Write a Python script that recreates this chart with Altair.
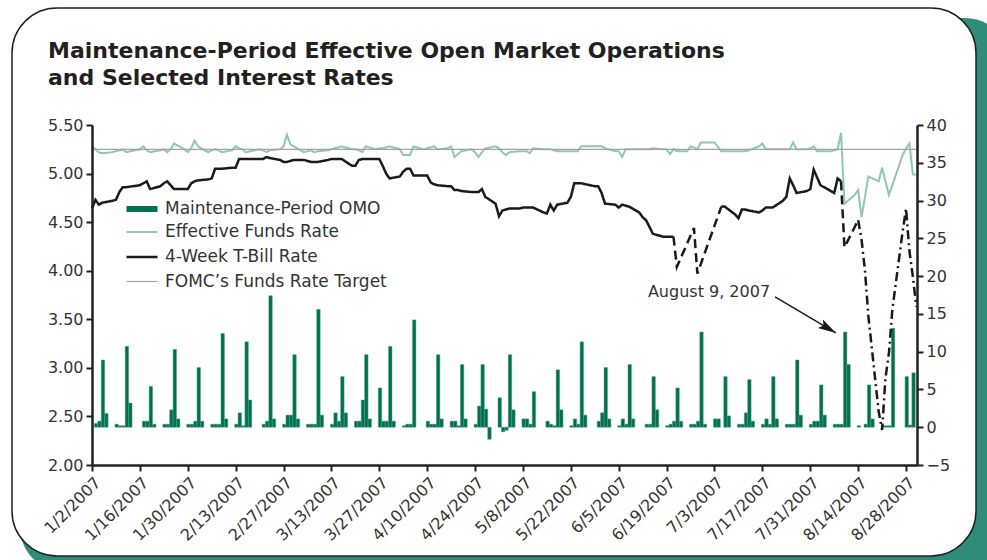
import altair as alt
import pandas as pd

# ---------------- data ----------------
TITLE_LINES = ["Maintenance-Period Effective Open Market Operations",
               "and Selected Interest Rates"]
SERIES = ["Maintenance-Period OMO", "Effective Funds Rate",
          "4-Week T-Bill Rate", "FOMC\u2019s Funds Rate Target"]
X_TICK_LABELS = ["1/2/2007", "1/16/2007", "1/30/2007", "2/13/2007", "2/27/2007",
                 "3/13/2007", "3/27/2007", "4/10/2007", "4/24/2007", "5/8/2007",
                 "5/22/2007", "6/5/2007", "6/19/2007", "7/3/2007", "7/17/2007",
                 "7/31/2007", "8/14/2007", "8/28/2007"]
LEFT_TICKS = [2.0, 2.5, 3.0, 3.5, 4.0, 4.5, 5.0, 5.5]
RIGHT_TICKS = [-5, 0, 5, 10, 15, 20, 25, 30, 35, 40]

FIRST_MONDAY = "2007-01-01"
# Maintenance-period OMO, one list per week (Mon..Fri), None = no operation
OMO_WEEKS = [
    [None, 0.5, 0.8, 8.9, 1.8], [0.4, 0.2, 0.2, 10.7, 3.2], [None, 0.8, 0.8, 5.4, 0.4],
    [0.4, 0.4, 2.3, 10.3, 1.1], [0.4, 0.4, 0.8, 7.9, 0.8], [0.4, 0.4, 0.4, 12.4, 1.1],
    [0.4, 1.9, 0.2, 11.3, 3.6], [None, 0.4, 0.8, 17.4, 1.1], [0.4, 1.6, 1.6, 9.6, 1.1],
    [0.4, 0.4, 0.4, 15.6, 1.6], [0.4, 1.9, 0.8, 6.7, 1.9], [0.8, 0.8, 3.6, 9.6, 1.1],
    [5.2, 0.8, 0.8, 10.7, 0.8], [0.2, 0.4, 0.4, 14.2, None], [0.8, 0.4, 0.4, 9.6, 1.1],
    [0.8, 0.8, 0.2, 8.3, 1.1], [0.4, 2.8, 8.3, 2.4, -1.6], [3.9, -0.6, -0.4, 9.6, 2.3],
    [1.1, 1.1, 0.4, 4.7, None], [0.8, 0.4, 0.2, 7.6, 2.3], [0.2, 1.1, 0.4, 11.3, 1.6],
    [None, 0.8, 1.9, 7.9, 1.1], [0.2, 1.1, 0.4, 8.3, 1.1], [None, 0.4, 0.4, 6.7, 2.3],
    [0.2, 0.4, 0.8, 5.2, 0.8], [0.4, 0.4, 0.8, 12.6, 0.4], [1.1, 1.1, None, 6.7, 1.5],
    [0.4, 0.4, 1.9, 6.3, 0.8], [0.4, 1.1, 0.4, 6.7, 1.1], [0.4, 0.4, 0.4, 8.9, 1.6],
    [0.4, 0.8, 0.8, 5.6, 1.6], [0.4, 0.4, 0.4, 12.6, 8.3], [0.2, None, 0.4, 5.6, 1.1],
    [0.2, 0.2, 0.2, 13.1, None], [6.7, 0.3, 7.2, None, None],
]
# Effective funds rate, one list per week (Mon..Fri)
EFR_WEEKS = [
    [None, 5.28, 5.25, 5.22, 5.21], [5.22, 5.23, 5.24, 5.25, 5.22], [None, 5.25, 5.28, 5.24, 5.22],
    [5.24, 5.25, 5.22, 5.25, 5.31], [5.25, 5.22, 5.26, 5.34, 5.28], [5.22, 5.24, 5.25, 5.24, 5.22],
    [5.24, 5.28, 5.26, 5.25, 5.22], [None, 5.25, 5.24, 5.22, 5.24], [5.25, 5.28, 5.40, 5.30, 5.28],
    [5.22, 5.23, 5.24, 5.22, 5.23], [5.24, 5.25, 5.26, 5.27, 5.28], [5.25, 5.25, 5.24, 5.22, 5.28],
    [5.25, 5.26, 5.26, 5.27, 5.28], [5.25, 5.19, 5.19, 5.19, 5.28], [5.25, 5.26, 5.27, 5.28, 5.25],
    [5.26, 5.28, 5.17, 5.20, 5.23], [5.25, 5.22, 5.17, 5.22, 5.26], [5.28, 5.26, 5.22, 5.19, 5.22],
    [5.23, 5.23, 5.23, 5.21, 5.26], [5.25, 5.25, 5.25, 5.24, 5.23], [5.23, 5.23, 5.23, 5.23, 5.28],
    [None, 5.28, 5.28, 5.28, 5.26], [5.23, 5.23, 5.17, 5.25, 5.25], [5.25, 5.25, 5.25, 5.25, 5.26],
    [5.25, 5.25, 5.20, 5.25, 5.23], [5.23, 5.28, 5.27, 5.25, 5.32], [5.32, 5.32, None, 5.23, 5.23],
    [5.23, 5.23, 5.23, 5.23, 5.24], [5.28, 5.31, 5.25, 5.25, 5.25], [5.25, 5.25, 5.25, 5.32, 5.25],
    [5.25, 5.26, 5.28, 5.23, 5.23], [5.23, 5.24, 5.25, 5.42, 4.69], [4.78, 4.83, 4.55, 4.76, 4.97],
    [4.92, 5.06, 4.92, 4.78, 4.88], [5.19, 5.26, 5.31, 4.99, 4.99],
]
TBILL_DATES = [
    "2007-01-02", "2007-01-03", "2007-01-04", "2007-01-05", "2007-01-08", "2007-01-09", "2007-01-10",
    "2007-01-11", "2007-01-12", "2007-01-16", "2007-01-17", "2007-01-18", "2007-01-19", "2007-01-22",
    "2007-01-23", "2007-01-24", "2007-01-25", "2007-01-26", "2007-01-29", "2007-01-30", "2007-01-31",
    "2007-02-01", "2007-02-02", "2007-02-05", "2007-02-06", "2007-02-07", "2007-02-08", "2007-02-09",
    "2007-02-12", "2007-02-13", "2007-02-14", "2007-02-15", "2007-02-16", "2007-02-20", "2007-02-21",
    "2007-02-22", "2007-02-23", "2007-02-26", "2007-02-27", "2007-02-28", "2007-03-01", "2007-03-02",
    "2007-03-05", "2007-03-06", "2007-03-07", "2007-03-08", "2007-03-09", "2007-03-12", "2007-03-13",
    "2007-03-14", "2007-03-15", "2007-03-16", "2007-03-19", "2007-03-20", "2007-03-21", "2007-03-22",
    "2007-03-23", "2007-03-26", "2007-03-27", "2007-03-28", "2007-03-29", "2007-03-30", "2007-04-02",
    "2007-04-03", "2007-04-04", "2007-04-05", "2007-04-06", "2007-04-09", "2007-04-10", "2007-04-11",
    "2007-04-12", "2007-04-13", "2007-04-16", "2007-04-17", "2007-04-18", "2007-04-19", "2007-04-20",
    "2007-04-23", "2007-04-24", "2007-04-25", "2007-04-26", "2007-04-27", "2007-04-30", "2007-05-01",
    "2007-05-02", "2007-05-03", "2007-05-04", "2007-05-07", "2007-05-08", "2007-05-09", "2007-05-10",
    "2007-05-11", "2007-05-14", "2007-05-15", "2007-05-16", "2007-05-17", "2007-05-18", "2007-05-21",
    "2007-05-22", "2007-05-23", "2007-05-24", "2007-05-25", "2007-05-29", "2007-05-30", "2007-05-31",
    "2007-06-01", "2007-06-04", "2007-06-05", "2007-06-06", "2007-06-07", "2007-06-08", "2007-06-11",
    "2007-06-12", "2007-06-13", "2007-06-14", "2007-06-15", "2007-06-18", "2007-06-19", "2007-06-20",
    "2007-06-21", "2007-06-22", "2007-06-27", "2007-06-28", "2007-07-05", "2007-07-06", "2007-07-09",
    "2007-07-10", "2007-07-11", "2007-07-12", "2007-07-13", "2007-07-16", "2007-07-17", "2007-07-18",
    "2007-07-19", "2007-07-20", "2007-07-23", "2007-07-24", "2007-07-25", "2007-07-26", "2007-07-27",
    "2007-07-30", "2007-07-31", "2007-08-01", "2007-08-02", "2007-08-03", "2007-08-06", "2007-08-07",
    "2007-08-08", "2007-08-09", "2007-08-10", "2007-08-13", "2007-08-14", "2007-08-15", "2007-08-16",
    "2007-08-17", "2007-08-20", "2007-08-21", "2007-08-22", "2007-08-23", "2007-08-24", "2007-08-27",
    "2007-08-28", "2007-08-29", "2007-08-30", "2007-08-31",
]
TBILL_VALUES = [
    4.64, 4.73, 4.68, 4.70, 4.72, 4.73, 4.81,
    4.86, 4.86, 4.88, 4.90, 4.92, 4.84, 4.87,
    4.90, 4.92, 4.88, 4.84, 4.84, 4.84, 4.90,
    4.92, 4.93, 4.94, 4.95, 5.05, 5.05, 5.05,
    5.06, 5.06, 5.15, 5.15, 5.15, 5.15, 5.15,
    5.17, 5.16, 5.14, 5.12, 5.12, 5.13, 5.14,
    5.14, 5.13, 5.12, 5.12, 5.12, 5.14, 5.15,
    5.15, 5.15, 5.15, 5.08, 5.08, 5.14, 5.15,
    5.15, 5.15, 5.15, 5.08, 5.00, 4.95, 4.97,
    5.02, 5.05, 5.05, 4.98, 4.98, 4.98, 4.91,
    4.89, 4.88, 4.87, 4.87, 4.83, 4.83, 4.82,
    4.81, 4.81, 4.81, 4.84, 4.76, 4.69, 4.56,
    4.62, 4.63, 4.64, 4.64, 4.65, 4.65, 4.65,
    4.65, 4.60, 4.59, 4.68, 4.62, 4.68, 4.70,
    4.76, 4.90, 4.90, 4.90, 4.87, 4.87, 4.80,
    4.69, 4.68, 4.65, 4.68, 4.67, 4.66, 4.60,
    4.55, 4.52, 4.45, 4.38, 4.35, 4.35, 4.35,
    4.35, 4.04, 4.44, 3.97, 4.66, 4.66, 4.58,
    4.54, 4.63, 4.63, 4.62, 4.60, 4.62, 4.65,
    4.65, 4.65, 4.72, 4.76, 4.95, 4.88, 4.80,
    4.82, 4.84, 5.04, 4.96, 4.88, 4.82, 4.80,
    4.95, 4.92, 4.24, 4.45, 4.52, 4.32, 4.00,
    3.53, 2.55, 2.36, 2.90, 3.15, 3.60, 4.40,
    4.64, 4.20, 3.94, 3.63,
]
# line style of the T-bill series over date ranges
TBILL_STYLE_FROM = ["2007-01-02", "2007-06-21", "2007-07-05", "2007-08-09", "2007-08-14"]
TBILL_STYLE_TO = ["2007-06-21", "2007-07-05", "2007-08-09", "2007-08-14", "2007-08-31"]
TBILL_STYLE = ["solid", "dash", "solid", "dash", "dashdot"]

FOMC_DATES = ["2007-01-02T00:00:00", "2007-08-31T05:00:00"]
FOMC_VALUES = [5.25, 5.25]

ANNOT_LABEL = ["August 9, 2007"]
ANNOT_DATE = ["2007-07-19T06:00:00"]
ANNOT_VALUE = [3.78]
ARROW_FROM_DATE = ["2007-07-20T17:00:00"]
ARROW_FROM_VALUE = [3.73]
ARROW_TO_DATE = ["2007-08-07T12:00:00"]
ARROW_TO_VALUE = [3.36]

# ---------------- frames ----------------
mondays = pd.date_range(FIRST_MONDAY, periods=len(OMO_WEEKS), freq="7D")
bar_rows, efr_rows = [], []
for w, monday in enumerate(mondays):
    for k in range(5):
        d = monday + pd.Timedelta(days=k)
        v = OMO_WEEKS[w][k]
        if v is not None:
            bar_rows.append({"bx": d + pd.Timedelta(hours=17), "bx2": d + pd.Timedelta(hours=41), "omo": v})
        e = EFR_WEEKS[w][k]
        if e is not None:
            efr_rows.append({"date": d, "value": e, "series": SERIES[1], "seg": "efr", "style": "solid"})
bars_df = pd.DataFrame(bar_rows)

tb = pd.DataFrame({"date": pd.to_datetime(TBILL_DATES), "value": TBILL_VALUES})
line_parts = [pd.DataFrame(efr_rows)]
for i, (a, b, s) in enumerate(zip(TBILL_STYLE_FROM, TBILL_STYLE_TO, TBILL_STYLE)):
    part = tb[(tb.date >= pd.Timestamp(a)) & (tb.date <= pd.Timestamp(b))].copy()
    part["series"] = SERIES[2]
    part["seg"] = f"tb{i}"
    part["style"] = s
    line_parts.append(part)
line_parts.append(pd.DataFrame({"date": pd.to_datetime(FOMC_DATES, format="ISO8601"), "value": FOMC_VALUES,
                                "series": SERIES[3], "seg": "fomc", "style": "solid"}))
lines_df = pd.concat(line_parts, ignore_index=True)

annot_df = pd.DataFrame({"date": pd.to_datetime(ANNOT_DATE, format="ISO8601"),
                         "value": ANNOT_VALUE, "label": ANNOT_LABEL})
arrow_df = pd.DataFrame({"d1": pd.to_datetime(ARROW_FROM_DATE, format="ISO8601"), "v1": ARROW_FROM_VALUE,
                         "d2": pd.to_datetime(ARROW_TO_DATE, format="ISO8601"), "v2": ARROW_TO_VALUE})


def to_dt(s):
    m, d, y = (int(p) for p in s.split("/"))
    return alt.DateTime(year=y, month=m, date=d)


# ---------------- layout / style ----------------
PL, PT, W, H = 92, 125, 825, 340
FONT = "DejaVu Sans"
TXT = "#333333"
AX = "#231f20"

x_scale = alt.Scale(domain=[alt.DateTime(year=2007, month=1, date=2),
                            alt.DateTime(year=2007, month=8, date=31, hours=5)])
x_axis = alt.Axis(values=[to_dt(s) for s in X_TICK_LABELS], format="%-m/%-d/%Y",
                  labelAngle=-45, labelAlign="right", labelBaseline="top",
                  labelFlush=False, labelOverlap=False, labelBound=False,
                  labelPadding=3, tickSize=6, title=None, grid=False, zindex=2)
left_scale = alt.Scale(domain=[2, 5.5], nice=False, zero=False)
left_axis = alt.Axis(orient="left", values=LEFT_TICKS, format=".2f", tickSize=6,
                     labelPadding=3, labelOverlap=False, title=None, grid=False, zindex=2)
right_scale = alt.Scale(domain=[-5, 40], nice=False, zero=False)
right_axis = alt.Axis(orient="right", values=RIGHT_TICKS, format="d", tickSize=6,
                      labelPadding=3, labelOverlap=False, title=None, grid=False, zindex=2)

frame_df = pd.DataFrame({"k": [0]})
shadow = alt.Chart(frame_df).mark_rect(cornerRadius=45, color="#2f8c78").encode(
    x=alt.value(20 - PL), x2=alt.value(1010 - PL), y=alt.value(18 - PT), y2=alt.value(572 - PT))
frame = alt.Chart(frame_df).mark_rect(cornerRadius=45, fill="white", stroke=AX, strokeWidth=1.5).encode(
    x=alt.value(12 - PL), x2=alt.value(976 - PL), y=alt.value(8 - PT), y2=alt.value(556 - PT))

title_df = pd.DataFrame({"t": ["\n".join(TITLE_LINES)]})
title = alt.Chart(title_df).mark_text(align="left", baseline="alphabetic", lineBreak="\n",
                                      lineHeight=27, fontSize=22, fontWeight="bold",
                                      font=FONT, color=AX).encode(
    x=alt.value(48 - PL), y=alt.value(58 - PT), text="t:N")

bars = alt.Chart(bars_df).mark_bar(color="#00704f", stroke="#4f9e80", strokeWidth=0.5).encode(
    x=alt.X("bx:T", scale=x_scale, axis=x_axis),
    x2="bx2:T",
    y=alt.Y("omo:Q", scale=right_scale, axis=right_axis),
    y2=alt.datum(0),
)

legend = alt.Legend(title=None, orient="none", legendX=39, legendY=73,
                    symbolType="M-2,0H2", symbolSize=240, labelOffset=12,
                    rowPadding=1, padding=0, gridAlign="all",
                    labelFont=FONT, labelFontSize=17,
                    labelColor=TXT, labelLimit=0)
lines = alt.Chart(lines_df).mark_line(strokeJoin="miter").encode(
    x=alt.X("date:T", scale=x_scale, axis=x_axis),
    y=alt.Y("value:Q", scale=left_scale, axis=left_axis),
    color=alt.Color("series:N", scale=alt.Scale(domain=SERIES,
                    range=["#00704f", "#8fc7b0", "#1a1a1a", "#a3a3a3"]), legend=legend),
    strokeWidth=alt.StrokeWidth("series:N", scale=alt.Scale(type="ordinal", domain=SERIES,
                                range=[6, 2, 2.5, 1.2]), legend=legend),
    strokeDash=alt.StrokeDash("style:N", scale=alt.Scale(domain=["solid", "dash", "dashdot"],
                              range=[[1, 0], [9, 5], [9, 4, 2, 4]]), legend=None),
    detail="seg:N",
)

annot = alt.Chart(annot_df).mark_text(align="right", baseline="middle", fontSize=16,
                                      font=FONT, color=TXT).encode(
    x=alt.X("date:T", scale=x_scale, axis=x_axis),
    y=alt.Y("value:Q", scale=left_scale, axis=left_axis),
    text="label:N")
arrow_line = alt.Chart(arrow_df).mark_rule(color="#1a1a1a", strokeWidth=1.5).encode(
    x=alt.X("d1:T", scale=x_scale, axis=x_axis), x2="d2:T",
    y=alt.Y("v1:Q", scale=left_scale, axis=left_axis), y2="v2:Q")
arrow_head = alt.Chart(arrow_df).mark_point(shape="M0,0L-2,-0.55L-1.6,0L-2,0.55Z", size=324,
                                            angle=30.5, filled=True, color="#1a1a1a",
                                            opacity=1).encode(
    x=alt.X("d2:T", scale=x_scale, axis=x_axis),
    y=alt.Y("v2:Q", scale=left_scale, axis=left_axis))

left_layer = alt.layer(lines, annot, arrow_line, arrow_head)

chart = alt.layer(shadow, frame, title, bars, left_layer).resolve_scale(
    y="independent"
).properties(
    width=W, height=H,
    autosize=alt.AutoSizeParams(type="none"),
    padding={"left": PL, "top": PT, "right": 987 - PL - W, "bottom": 560 - PT - H},
    background="white",
).configure_view(stroke=None).configure_axis(
    labelFont=FONT, labelFontSize=16, labelColor=TXT,
    domainColor=AX, domainWidth=2.5, tickColor=AX, tickWidth=2,
)

chart.save("out.html", embed_options={"renderer": "svg", "actions": False})
